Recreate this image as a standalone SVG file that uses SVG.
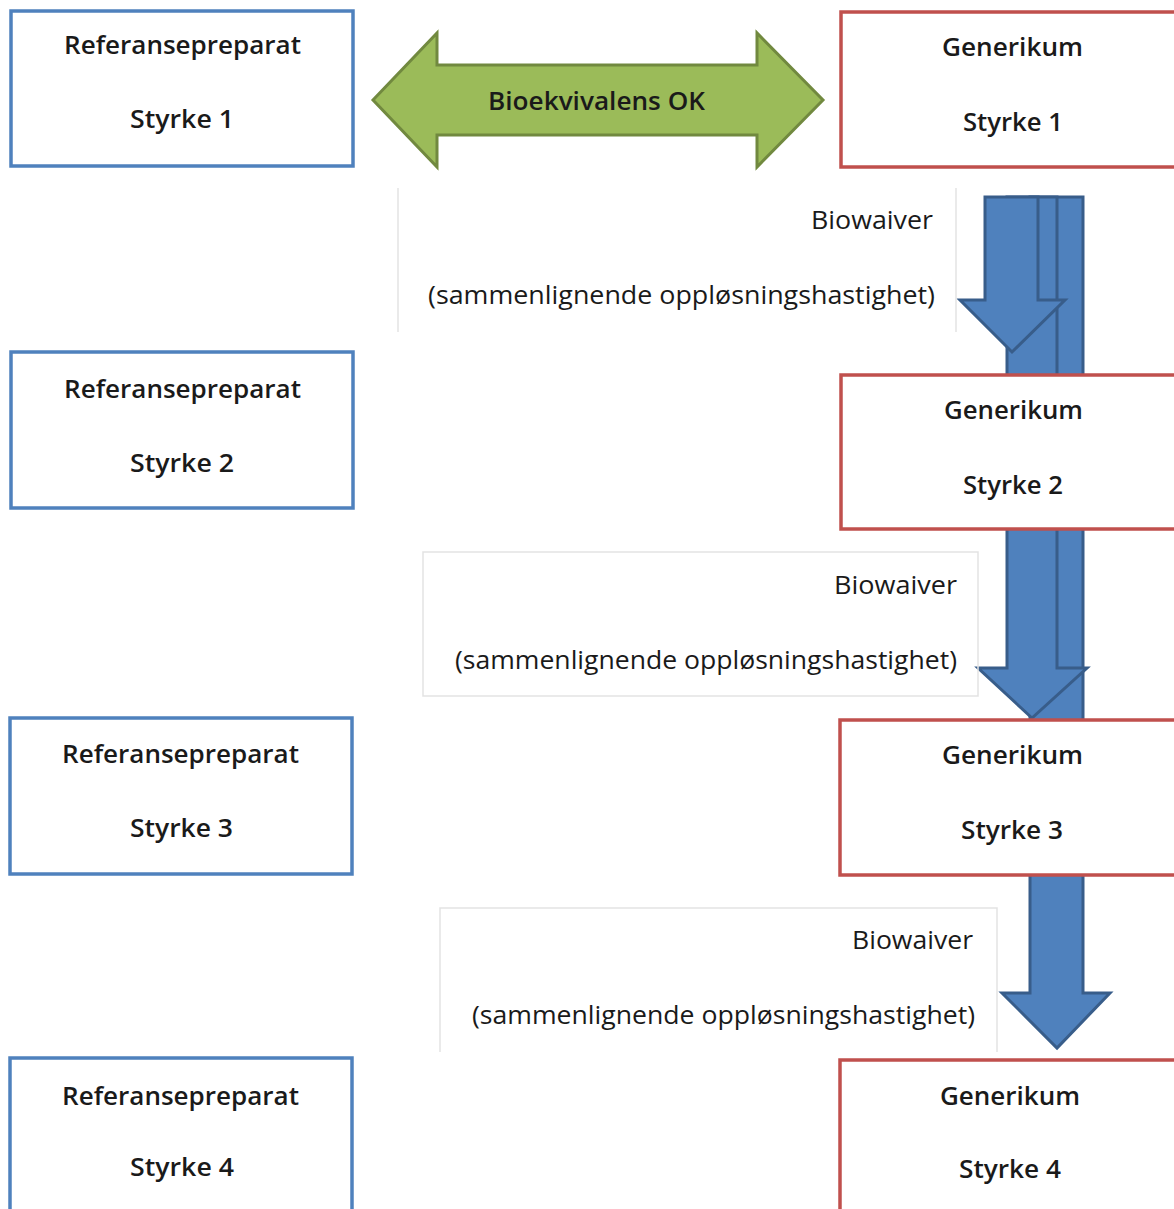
<svg xmlns="http://www.w3.org/2000/svg" width="1174" height="1209" viewBox="0 0 1174 1209">
<style>
.ref{fill:#fff;stroke:#4f81bd;stroke-width:3.5}
.gen{fill:#fff;stroke:#c0504d;stroke-width:3.5}
.lbl{font-family:"Open Sans","Liberation Sans",sans-serif;font-size:26px;font-weight:600;fill:#1a1a1a}
.bw{font-family:"Open Sans","Liberation Sans",sans-serif;font-size:25px;fill:#1a1a1a}
.tb{fill:none;stroke:#e3e3e3;stroke-width:1.5}
.blue{fill:#4f81bd;stroke:#385d8a;stroke-width:3;stroke-linejoin:miter}
.green{fill:#9bbb59;stroke:#71893f;stroke-width:3}
</style>
<rect width="1174" height="1209" fill="#fff"/>

<g id="connectors">
  <path id="arrow-g3-g4" class="blue" d="M1030,197 H1083 V993 H1110 L1057,1048 L1002,993 H1030 Z"/>
  <path id="arrow-g2-g3" class="blue" d="M1007,197 H1057 V668 H1087 L1032,718 L978,668 H1007 Z"/>
  <path id="arrow-g1-g2" class="blue" d="M985,197 H1038 V300 H1065 L1012,352 L960,300 H985 Z"/>
  <g id="bioequivalence">
    <path class="green" d="M373,100 L437,33 V65 H757 V33 L823,100 L757,167 V135 H437 V167 Z"/>
    <text class="lbl" x="488" y="110" textLength="217" lengthAdjust="spacingAndGlyphs">Bioekvivalens OK</text>
  </g>
</g>

<g id="label-biowaiver-1">
  <line class="tb" x1="398" y1="188" x2="398" y2="332"/>
  <line class="tb" x1="956" y1="188" x2="956" y2="332"/>
  <text class="bw" x="811" y="229" textLength="122" lengthAdjust="spacingAndGlyphs">Biowaiver</text>
  <text class="bw" x="428" y="304" textLength="507" lengthAdjust="spacingAndGlyphs">(sammenlignende oppløsningshastighet)</text>
</g>
<g id="label-biowaiver-2">
  <rect class="tb" x="423" y="552" width="555" height="144"/>
  <text class="bw" x="834" y="594" textLength="123" lengthAdjust="spacingAndGlyphs">Biowaiver</text>
  <text class="bw" x="455" y="669" textLength="502" lengthAdjust="spacingAndGlyphs">(sammenlignende oppløsningshastighet)</text>
</g>
<g id="label-biowaiver-3">
  <path class="tb" d="M440,1052 V908 H997 V1052"/>
  <text class="bw" x="852" y="949" textLength="121" lengthAdjust="spacingAndGlyphs">Biowaiver</text>
  <text class="bw" x="472" y="1024" textLength="503" lengthAdjust="spacingAndGlyphs">(sammenlignende oppløsningshastighet)</text>
</g>

<g id="ref1">
  <rect class="ref" x="11" y="11" width="342" height="155"/>
  <text class="lbl" x="64" y="54" textLength="237" lengthAdjust="spacingAndGlyphs">Referansepreparat</text>
  <text class="lbl" x="130" y="128" textLength="104" lengthAdjust="spacingAndGlyphs">Styrke 1</text>
</g>
<g id="ref2">
  <rect class="ref" x="11" y="352" width="342" height="156"/>
  <text class="lbl" x="64" y="398" textLength="237" lengthAdjust="spacingAndGlyphs">Referansepreparat</text>
  <text class="lbl" x="130" y="472" textLength="104" lengthAdjust="spacingAndGlyphs">Styrke 2</text>
</g>
<g id="ref3">
  <rect class="ref" x="10" y="718" width="342" height="156"/>
  <text class="lbl" x="62" y="763" textLength="237" lengthAdjust="spacingAndGlyphs">Referansepreparat</text>
  <text class="lbl" x="130" y="837" textLength="103" lengthAdjust="spacingAndGlyphs">Styrke 3</text>
</g>
<g id="ref4">
  <rect class="ref" x="10" y="1058" width="342" height="170"/>
  <text class="lbl" x="62" y="1105" textLength="237" lengthAdjust="spacingAndGlyphs">Referansepreparat</text>
  <text class="lbl" x="130" y="1176" textLength="104" lengthAdjust="spacingAndGlyphs">Styrke 4</text>
</g>

<g id="gen1">
  <rect class="gen" x="841" y="12" width="345" height="155"/>
  <text class="lbl" x="942" y="56" textLength="141" lengthAdjust="spacingAndGlyphs">Generikum</text>
  <text class="lbl" x="963" y="131" textLength="100" lengthAdjust="spacingAndGlyphs">Styrke 1</text>
</g>
<g id="gen2">
  <rect class="gen" x="841" y="375" width="345" height="154"/>
  <text class="lbl" x="944" y="419" textLength="139" lengthAdjust="spacingAndGlyphs">Generikum</text>
  <text class="lbl" x="963" y="494" textLength="100" lengthAdjust="spacingAndGlyphs">Styrke 2</text>
</g>
<g id="gen3">
  <rect class="gen" x="840" y="720" width="346" height="155"/>
  <text class="lbl" x="942" y="764" textLength="141" lengthAdjust="spacingAndGlyphs">Generikum</text>
  <text class="lbl" x="961" y="839" textLength="102" lengthAdjust="spacingAndGlyphs">Styrke 3</text>
</g>
<g id="gen4">
  <rect class="gen" x="840" y="1060" width="346" height="170"/>
  <text class="lbl" x="940" y="1105" textLength="140" lengthAdjust="spacingAndGlyphs">Generikum</text>
  <text class="lbl" x="959" y="1178" textLength="102" lengthAdjust="spacingAndGlyphs">Styrke 4</text>
</g>
</svg>
